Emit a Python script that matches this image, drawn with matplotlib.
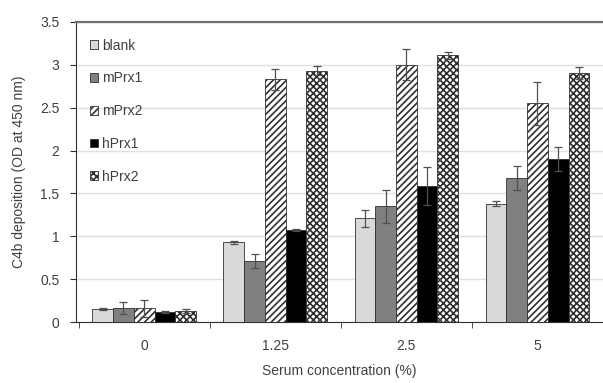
import numpy as np
import matplotlib
matplotlib.use('Agg')
import matplotlib.pyplot as plt

plt.rcParams['font.family'] = ['Liberation Sans', 'DejaVu Sans']
plt.rcParams['hatch.linewidth'] = 1.2

concentrations = ['0', '1.25', '2.5', '5']
series = ['blank', 'mPrx1', 'mPrx2', 'hPrx1', 'hPrx2']

values = {
    'blank': [0.15, 0.93, 1.21, 1.38],
    'mPrx1': [0.16, 0.71, 1.35, 1.68],
    'mPrx2': [0.16, 2.83, 3.00, 2.55],
    'hPrx1': [0.12, 1.07, 1.59, 1.90],
    'hPrx2': [0.13, 2.93, 3.11, 2.90],
}
errors = {
    'blank': [0.01, 0.02, 0.10, 0.03],
    'mPrx1': [0.07, 0.08, 0.19, 0.14],
    'mPrx2': [0.10, 0.12, 0.18, 0.25],
    'hPrx1': [0.01, 0.01, 0.22, 0.14],
    'hPrx2': [0.02, 0.05, 0.04, 0.07],
}

styles = {
    'blank': dict(color='#d9d9d9', hatch=None),
    'mPrx1': dict(color='#808080', hatch=None),
    'mPrx2': dict(color='white', hatch='/////'),
    'hPrx1': dict(color='black', hatch=None),
    'hPrx2': dict(color='white', hatch='xxxxx'),
}

text_col = '#404040'

fig = plt.figure(figsize=(6.03, 3.83), dpi=100)
ax = fig.add_axes([0.126, 0.159, 0.874, 0.784])

x = np.arange(len(concentrations))
width = 0.158
for i, name in enumerate(series):
    st = styles[name]
    pos = x + (i - 2) * width
    ax.bar(pos, values[name], width, color=st['color'], hatch=st['hatch'],
           edgecolor='#303030', linewidth=0.6, label=name, zorder=3)
    ax.errorbar(pos, values[name], yerr=errors[name], fmt='none',
                ecolor='#505050', elinewidth=0.9, capsize=3, capthick=0.9, zorder=4)

ax.set_xlim(-0.52, 3.47)
ax.set_ylim(0, 3.5)
ax.set_yticks(np.arange(0, 3.51, 0.5))
ax.set_yticklabels(['0', '0.5', '1', '1.5', '2', '2.5', '3', '3.5'])
ax.set_xticks(x)
ax.set_xticklabels(concentrations)
ax.set_xticks(np.arange(-0.5, 3.6, 1), minor=True)
ax.tick_params(axis='x', which='major', length=0, pad=12, labelsize=10, labelcolor=text_col)
ax.tick_params(axis='x', which='minor', length=4, direction='out', color='#303030')
ax.tick_params(axis='y', length=4, direction='out', labelsize=10, labelcolor=text_col,
               color='#303030', pad=8)

ax.yaxis.grid(True, color='#e0e0e0', linewidth=1.0, zorder=0)
ax.set_axisbelow(True)

ax.spines['right'].set_visible(False)
ax.spines['top'].set_color('#707070')
ax.spines['top'].set_linewidth(1.6)
ax.spines['left'].set_color('#303030')
ax.spines['bottom'].set_color('#303030')

ax.set_ylabel('C4b deposition (OD at 450 nm)', fontsize=10, color=text_col, labelpad=10)
ax.set_xlabel('Serum concentration (%)', fontsize=10, color=text_col, labelpad=8)

leg = ax.legend(loc='upper left', frameon=False, fontsize=10, labelspacing=1.35,
                handlelength=0.6, handleheight=0.6, handletextpad=0.25,
                bbox_to_anchor=(0.0, 0.99), borderaxespad=0.6)
for t in leg.get_texts():
    t.set_color(text_col)

fig.savefig('out.png', dpi=100)
